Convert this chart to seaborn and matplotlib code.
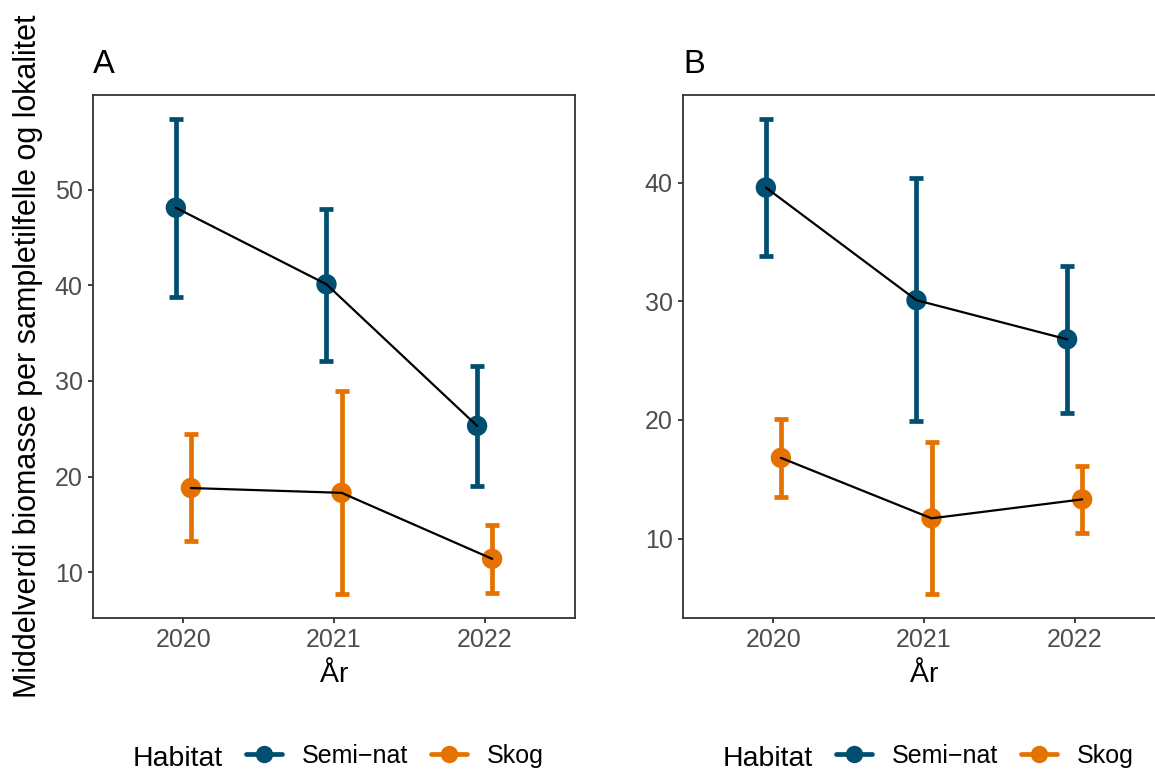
import matplotlib
matplotlib.use("Agg")
import numpy as np
import pandas as pd
import matplotlib.pyplot as plt
import seaborn as sns
from matplotlib.lines import Line2D
from matplotlib.ticker import MultipleLocator

# Categories
years = ["2020", "2021", "2022"]
habitats = ["Semi\u2212nat", "Skog"]
habitat_colors = ["#004F71", "#E57200"]

# Panel A: mean biomass with lower/upper interval limits
a_semi_mean = [48.1, 40.1, 25.3]
a_semi_low = [38.8, 32.1, 19.0]
a_semi_high = [57.4, 48.0, 31.6]
a_skog_mean = [18.8, 18.3, 11.4]
a_skog_low = [13.3, 7.7, 7.8]
a_skog_high = [24.4, 28.9, 14.9]

# Panel B
b_semi_mean = [39.6, 30.1, 26.8]
b_semi_low = [33.8, 19.9, 20.6]
b_semi_high = [45.4, 40.4, 33.0]
b_skog_mean = [16.8, 11.7, 13.3]
b_skog_low = [13.5, 5.3, 10.5]
b_skog_high = [20.1, 18.1, 16.1]

panel_letters = ["A", "B"]
x_title = "År"
y_title = "Middelverdi biomasse per sampletilfelle og lokalitet"
legend_title = "Habitat"

DODGE = 0.05
palette = dict(zip(habitats, habitat_colors))


def make_frame(semi, skog):
    rows = []
    for hab, (mean, low, high), off in zip(habitats, (semi, skog), (-DODGE, DODGE)):
        for i, yr in enumerate(years):
            rows.append({"Habitat": hab, "Year": yr, "x": i + off,
                         "mean": mean[i], "low": low[i], "high": high[i]})
    return pd.DataFrame(rows)


frames = [
    make_frame((a_semi_mean, a_semi_low, a_semi_high), (a_skog_mean, a_skog_low, a_skog_high)),
    make_frame((b_semi_mean, b_semi_low, b_semi_high), (b_skog_mean, b_skog_low, b_skog_high)),
]

sns.set_theme(style="white")
plt.rcParams["font.family"] = ["Liberation Sans", "DejaVu Sans"]

W, H = 1155, 771
fig = plt.figure(figsize=(W / 100, H / 100), dpi=100)

panel_left_px = [93, 683]
panel_w_px = 482
panel_top_px, panel_bottom_px = 95, 618

TICK_PT = 18
TITLE_PT = 20.5
YTITLE_PT = 22
LETTER_PT = 23.5
EDGE = "#333333"
LEGEND_BASE_PX = 766

axes = []
for left_px, df, letter in zip(panel_left_px, frames, panel_letters):
    ax = fig.add_axes([left_px / W, 1 - panel_bottom_px / H,
                       panel_w_px / W, (panel_bottom_px - panel_top_px) / H])
    axes.append(ax)

    for hab in habitats:
        g = df[df["Habitat"] == hab]
        ax.errorbar(g["x"], g["mean"],
                    yerr=[g["mean"] - g["low"], g["high"] - g["mean"]],
                    fmt="none", ecolor=palette[hab], elinewidth=3.4,
                    capsize=5, capthick=3.4, zorder=2)
    sns.scatterplot(data=df, x="x", y="mean", hue="Habitat", palette=palette,
                    s=215, edgecolor="none", linewidth=0, legend=False,
                    ax=ax, zorder=3)
    sns.lineplot(data=df, x="x", y="mean", units="Habitat", estimator=None,
                 color="black", linewidth=1.6, sort=False, ax=ax, zorder=4)

    lo = df["low"].min()
    hi = df["high"].max()
    pad = 0.05 * (hi - lo)
    ax.set_ylim(lo - pad, hi + pad)
    ax.set_xlim(-0.6, len(years) - 1 + 0.6)
    ax.set_xticks(range(len(years)))
    ax.set_xticklabels(years)
    ax.yaxis.set_major_locator(MultipleLocator(10))

    for sp in ax.spines.values():
        sp.set_visible(True)
        sp.set_color(EDGE)
        sp.set_linewidth(1.3)
    ax.tick_params(axis="both", which="major", bottom=True, left=True,
                   direction="out", length=3.8, width=1.3, color=EDGE,
                   labelcolor="#4D4D4D", labelsize=TICK_PT, pad=3.5)
    ax.grid(False)

    ax.set_ylabel("")
    ax.set_xlabel(x_title, fontsize=TITLE_PT, color="black")
    ax.xaxis.set_label_coords(0.5, -(675 - panel_bottom_px) / (panel_bottom_px - panel_top_px))
    ax.xaxis.label.set_va("center")

    ax.text(0, 1 + (panel_top_px - 73) / (panel_bottom_px - panel_top_px), letter,
            transform=ax.transAxes, ha="left", va="baseline",
            fontsize=LETTER_PT, color="black")

    # Legend under each panel: title on the left, entries in one row
    shift = left_px - panel_left_px[0]
    handles = [Line2D([], [], color=c, linewidth=3.4, marker="o", markersize=12.5,
                      markeredgewidth=0) for c in habitat_colors]
    fig.text((133 + shift) / W, 1 - LEGEND_BASE_PX / H, legend_title,
             ha="left", va="baseline", fontsize=TITLE_PT, color="black")
    leg = fig.legend(handles, habitats, loc="center left",
                     bbox_to_anchor=((246 + shift) / W, 1 - (LEGEND_BASE_PX - 10) / H),
                     ncol=2, frameon=False, fontsize=TICK_PT, handlelength=1.45,
                     handletextpad=0.8, columnspacing=0.9, borderpad=0,
                     borderaxespad=0)
    for t in leg.get_texts():
        t.set_color("black")

fig.text(28 / W, 1 - (panel_top_px + panel_bottom_px) / 2 / H, y_title,
         rotation=90, ha="center", va="center", fontsize=YTITLE_PT, color="black")

fig.savefig("out.png", dpi=100)
